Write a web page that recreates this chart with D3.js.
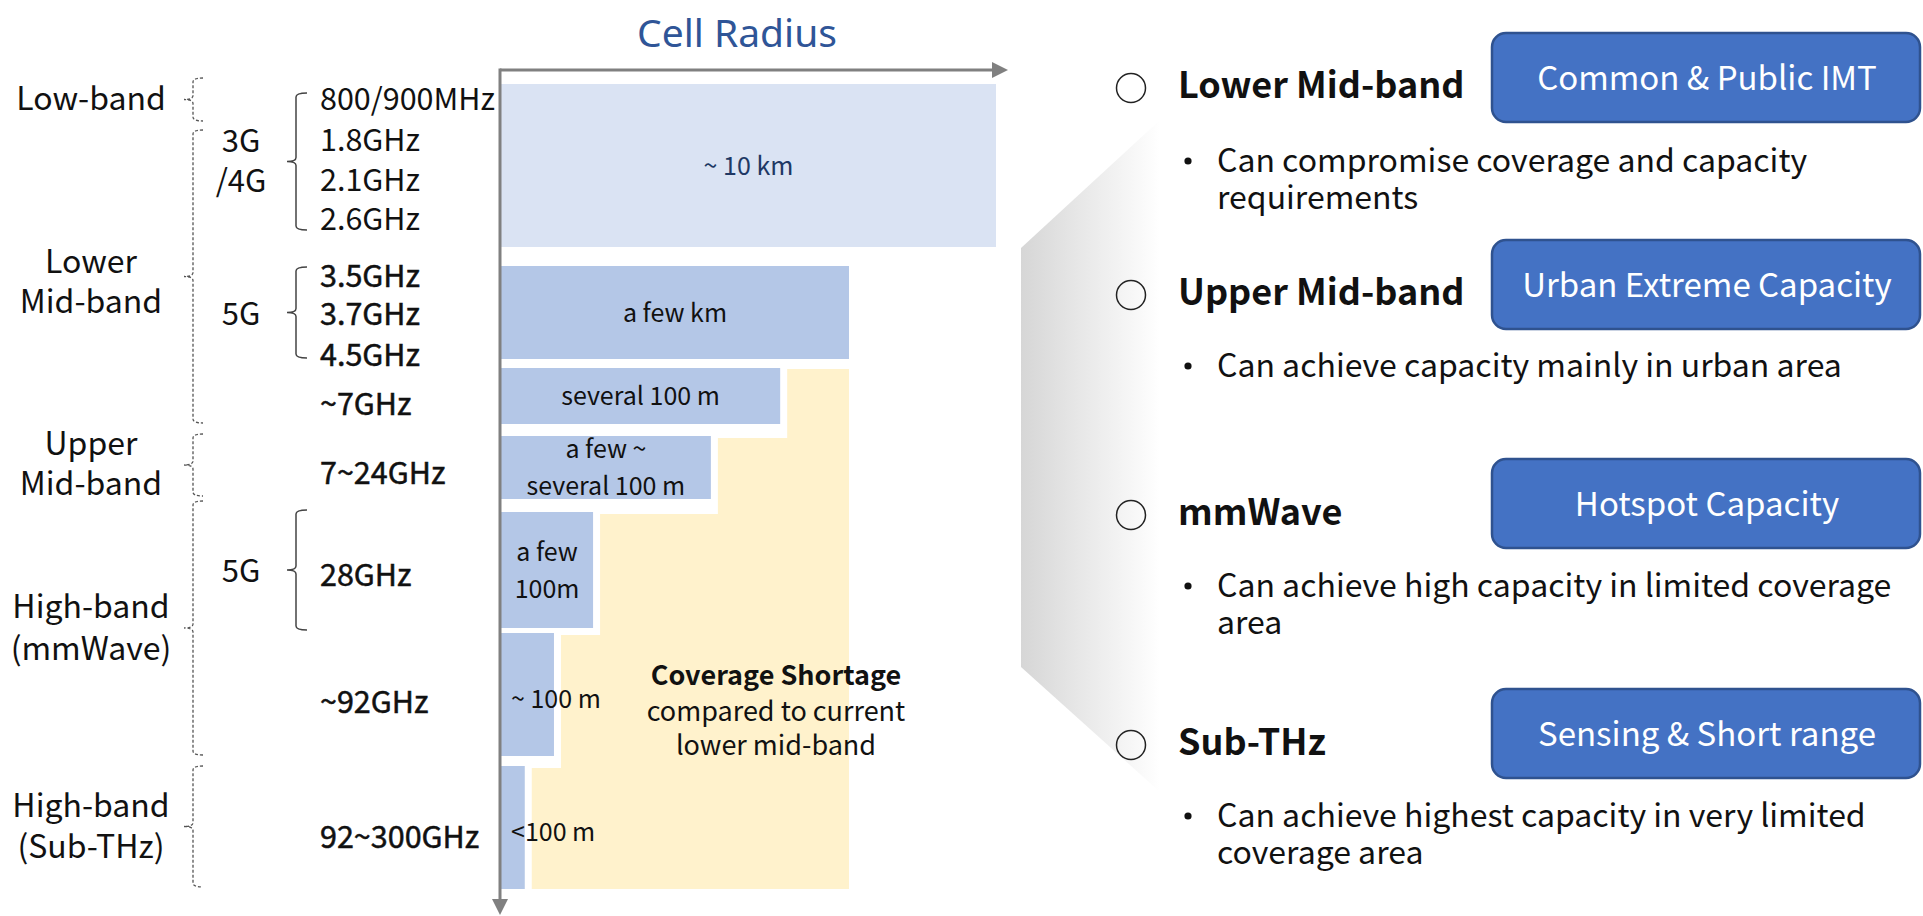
<!DOCTYPE html>
<html>
<head>
<meta charset="utf-8">
<title>Cell Radius by Band</title>
<script src="https://cdn.jsdelivr.net/npm/d3@7"></script>
<style>
  html, body { margin: 0; padding: 0; background: #fff; overflow: hidden; }
  svg { display: block; font-family: "Noto Sans CJK KR", "Noto Sans", sans-serif; }
</style>
</head>
<body>
<svg id="chart"></svg>
<script>
// ---- data ----
const bandGroups = [['Low-band'], ['Lower', 'Mid-band'], ['Upper', 'Mid-band'], ['High-band', '(mmWave)'], ['High-band', '(Sub-THz)']];
const generations = [['3G', '/4G'], ['5G'], ['5G']];
const frequencies = ['800/900MHz', '1.8GHz', '2.1GHz', '2.6GHz', '3.5GHz', '3.7GHz', '4.5GHz', '~7GHz', '7~24GHz', '28GHz', '~92GHz', '92~300GHz'];
const radiusLabels = [['~ 10 km'], ['a few km'], ['several 100 m'], ['a few ~', 'several 100 m'], ['a few', '100m'], ['~ 100 m'], ['<100 m']];
// relative cell radius (schematic, % of the longest bar)
const radiusValues = [100, 70.3, 56.4, 42.4, 18.6, 10.7, 4.8];
const referenceBar = 1; // shortage is measured against the 5G lower mid-band bar
const useCases = ['Lower Mid-band', 'Upper Mid-band', 'mmWave', 'Sub-THz'];
const useTags = ['Common & Public IMT', 'Urban Extreme Capacity', 'Hotspot Capacity', 'Sensing & Short range'];
const useNotes = [
    ['Can compromise coverage and capacity', 'requirements'],
    ['Can achieve capacity mainly in urban area'],
    ['Can achieve high capacity in limited coverage', 'area'],
    ['Can achieve highest capacity in very limited', 'coverage area']
];

// ---- layout ----
const W = 1923, H = 916;
const AXIS = {x: 500, y: 70, right: 1008, bottom: 915};
const BAR_Y = [[84, 247], [266, 359], [368, 424], [436, 499], [512, 628], [633, 756], [766, 889]];
const FREQ_Y = [110, 151, 191, 230, 287, 325, 366, 415, 484, 586, 713, 848];
const GROUP_SPAN = [[78, 121], [130, 423], [434, 496], [501, 755], [766, 887]];
const GROUP_Y = [[110], [273, 313], [455, 495], [618, 660], [817, 858]];
const GEN_SPAN = [[93, 230], [267, 358], [510, 630]];
const GEN_Y = [[152, 192], [325], [582]];
const ROW_Y = [98, 305, 525, 755];
const BOX_TOP = [33, 240, 459, 689];
const NOTE_Y = [172, 377, 597, 827];

const COLORS = {
    axis: '#808080',
    barFirst: '#DAE3F3',
    bar: '#B4C7E7',
    shortage: '#FFF2CC',
    title: '#2F5597',
    box: '#4472C4',
    boxStroke: '#2F528F'
};

const svg = d3.select('#chart').attr('width', W).attr('height', H);

const x = d3.scaleLinear().domain([0, 100]).range([501, 996]);

// grey shading that links the chart to the right panel
const defs = svg.append('defs');
const grad = defs.append('linearGradient').attr('id', 'fade').attr('x1', '0%').attr('x2', '100%');
grad.append('stop').attr('offset', '0%').attr('stop-color', '#d6d6d6');
grad.append('stop').attr('offset', '100%').attr('stop-color', '#ffffff');
svg.append('path')
    .attr('d', 'M1021,248 L1160,120 L1160,792 L1021,667 Z')
    .attr('fill', 'url(#fade)');

// coverage shortage staircase, built from bar widths
const refX = x(radiusValues[referenceBar]);
const steps = d3.range(referenceBar + 1, radiusValues.length).map(i => ({
    left: x(radiusValues[i]) + 7,
    top: i === referenceBar + 1 ? BAR_Y[i][0] + 1 : BAR_Y[i][0] + 2,
    bottom: i < radiusValues.length - 1 ? BAR_Y[i + 1][0] + 2 : BAR_Y[i][1]
}));
const pts = [[refX, steps[0].top], [refX, steps[steps.length - 1].bottom]];
steps.slice().reverse().forEach(s => {
    pts.push([s.left, s.bottom]);
    pts.push([s.left, s.top]);
});
svg.append('path')
    .attr('d', d3.line()(pts) + 'Z')
    .attr('fill', COLORS.shortage);

// bars
const bars = svg.append('g').selectAll('g')
    .data(radiusValues.map((v, i) => ({v, i, label: radiusLabels[i], y0: BAR_Y[i][0], y1: BAR_Y[i][1]})))
    .join('g');

bars.append('rect')
    .attr('x', x(0))
    .attr('y', d => d.y0)
    .attr('width', d => x(d.v) - x(0))
    .attr('height', d => d.y1 - d.y0)
    .attr('fill', d => d.i === 0 ? COLORS.barFirst : COLORS.bar);

bars.each(function (d) {
    const g = d3.select(this);
    const cy = (d.y0 + d.y1) / 2 + 9;
    const lh = 37;
    const barW = x(d.v) - x(0);
    const t = g.append('text')
        .attr('font-size', 25)
        .attr('fill', d.i === 0 ? '#203864' : '#111');
    const spans = d.label.map((line, k) => t.append('tspan')
        .attr('y', cy + (k - (d.label.length - 1) / 2) * lh)
        .text(line));
    const w = d3.max(spans, s => s.node().getComputedTextLength());
    if (w > barW - 6) {
        // label does not fit: start it just inside the bar and let it run over
        t.attr('text-anchor', 'start');
        spans.forEach(s => s.attr('x', x(0) + 10).attr('y', cy + 4));
    } else {
        t.attr('text-anchor', 'middle');
        spans.forEach(s => s.attr('x', (x(0) + x(d.v)) / 2));
    }
});

// coverage shortage caption
const cap = svg.append('text')
    .attr('text-anchor', 'middle')
    .attr('font-size', 27)
    .attr('fill', '#111');
cap.append('tspan').attr('x', 776).attr('y', 685).attr('font-weight', 'bold').text('Coverage Shortage');
cap.append('tspan').attr('x', 776).attr('y', 721).text('compared to current');
cap.append('tspan').attr('x', 776).attr('y', 755).text('lower mid-band');

// axes with arrow heads
svg.append('line')
    .attr('x1', AXIS.x).attr('y1', AXIS.y)
    .attr('x2', AXIS.right - 14).attr('y2', AXIS.y)
    .attr('stroke', COLORS.axis).attr('stroke-width', 3);
svg.append('path')
    .attr('d', `M${AXIS.right},${AXIS.y} l-16,-8 l0,16 Z`)
    .attr('fill', COLORS.axis);
svg.append('line')
    .attr('x1', AXIS.x).attr('y1', AXIS.y - 1.5)
    .attr('x2', AXIS.x).attr('y2', AXIS.bottom - 14)
    .attr('stroke', COLORS.axis).attr('stroke-width', 3);
svg.append('path')
    .attr('d', `M${AXIS.x},${AXIS.bottom} l-8,-16 l16,0 Z`)
    .attr('fill', COLORS.axis);

svg.append('text')
    .attr('x', 737).attr('y', 47)
    .attr('text-anchor', 'middle')
    .attr('font-family', '"Noto Sans", sans-serif')
    .attr('font-size', 39)
    .attr('fill', COLORS.title)
    .text('Cell Radius');

// braces
function brace(x0, y0, y1, reach, tip) {
    const m = (y0 + y1) / 2, r = 4;
    return `M${x0 + reach},${y0} Q${x0},${y0} ${x0},${y0 + r} L${x0},${m - r} Q${x0},${m} ${x0 - tip},${m}` +
        ` Q${x0},${m} ${x0},${m + r} L${x0},${y1 - r} Q${x0},${y1} ${x0 + reach},${y1}`;
}

svg.append('g').selectAll('path')
    .data(GROUP_SPAN)
    .join('path')
    .attr('d', d => brace(193, d[0], d[1], 10, 9))
    .attr('fill', 'none')
    .attr('stroke', '#555')
    .attr('stroke-width', 1.3)
    .attr('stroke-dasharray', '3,2');

svg.append('g').selectAll('path')
    .data(GEN_SPAN)
    .join('path')
    .attr('d', d => brace(296, d[0], d[1], 11, 9))
    .attr('fill', 'none')
    .attr('stroke', '#444')
    .attr('stroke-width', 1.5);

// band group labels
bandGroups.forEach((lines, i) => {
    const t = svg.append('text').attr('text-anchor', 'middle').attr('font-size', 32).attr('fill', '#111');
    lines.forEach((line, k) => t.append('tspan').attr('x', 91).attr('y', GROUP_Y[i][k]).text(line));
});

generations.forEach((lines, i) => {
    const t = svg.append('text').attr('text-anchor', 'middle').attr('font-size', 31).attr('fill', '#111');
    lines.forEach((line, k) => t.append('tspan').attr('x', 241).attr('y', GEN_Y[i][k]).text(line));
});

svg.append('g').selectAll('text')
    .data(frequencies)
    .join('text')
    .attr('x', 320)
    .attr('y', (d, i) => FREQ_Y[i])
    .attr('font-size', 30.5)
    .attr('fill', '#111')
    .attr('stroke', (d, i) => i >= 4 ? '#111' : 'none')
    .attr('stroke-width', 0.5)
    .text(d => d);

// right panel
const rows = svg.append('g').selectAll('g')
    .data(useCases.map((name, i) => ({name, i, tag: useTags[i], notes: useNotes[i]})))
    .join('g');

rows.append('circle')
    .attr('cx', 1131)
    .attr('cy', d => ROW_Y[d.i] - 10)
    .attr('r', 14.5)
    .attr('fill', 'none')
    .attr('stroke', '#222')
    .attr('stroke-width', 1.5);

rows.append('text')
    .attr('x', 1178)
    .attr('y', d => ROW_Y[d.i])
    .attr('font-size', 36)
    .attr('font-weight', 'bold')
    .attr('fill', '#111')
    .text(d => d.name);

rows.append('rect')
    .attr('x', 1492)
    .attr('y', d => BOX_TOP[d.i])
    .attr('width', 428)
    .attr('height', 89)
    .attr('rx', 14)
    .attr('fill', COLORS.box)
    .attr('stroke', COLORS.boxStroke)
    .attr('stroke-width', 2.5);

rows.append('text')
    .attr('x', 1707)
    .attr('y', d => BOX_TOP[d.i] + 57)
    .attr('text-anchor', 'middle')
    .attr('font-size', 33)
    .attr('fill', '#fff')
    .text(d => d.tag);

rows.append('circle')
    .attr('cx', 1188)
    .attr('cy', d => NOTE_Y[d.i] - 11)
    .attr('r', 3.6)
    .attr('fill', '#111');

rows.each(function (d) {
    d.notes.forEach((line, k) => d3.select(this).append('text')
        .attr('font-size', 32)
        .attr('fill', '#111')
        .attr('x', 1217)
        .attr('y', NOTE_Y[d.i] + k * 37)
        .text(line));
});
</script>
</body>
</html>
